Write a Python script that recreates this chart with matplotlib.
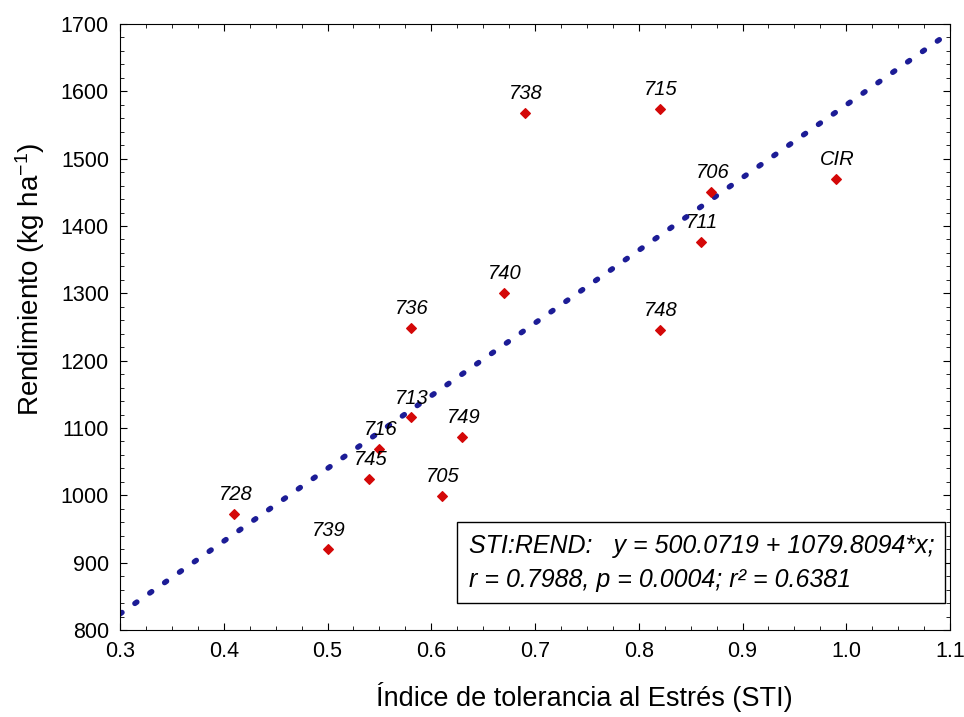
import numpy as np
import matplotlib.pyplot as plt
from matplotlib.ticker import MultipleLocator

plt.rcParams['font.family'] = ['Liberation Sans', 'DejaVu Sans']
plt.rcParams['mathtext.fontset'] = 'custom'
plt.rcParams['mathtext.rm'] = 'Liberation Sans'
plt.rcParams['mathtext.it'] = 'Liberation Sans:italic'

# Données
genotipos = ["738", "715", "706", "CIR", "711", "740", "736", "748",
             "713", "749", "716", "745", "705", "728", "739"]
sti = [0.69, 0.82, 0.87, 0.99, 0.86, 0.67, 0.58, 0.82,
       0.58, 0.63, 0.55, 0.54, 0.61, 0.41, 0.50]
rendimiento = [1568, 1574, 1451, 1470, 1376, 1301, 1249, 1246,
               1116, 1087, 1069, 1024, 999, 972, 920]

# Régression
a0 = 500.0719
a1 = 1079.8094
texte_reg = ["STI:REND:   y = 500.0719 + 1079.8094*x;",
             "r = 0.7988, p = 0.0004; r² = 0.6381"]

fig = plt.figure(figsize=(9.64, 7.17), dpi=100)
ax = fig.add_axes([0.1245, 0.1213, 0.861, 0.8452])

xr = np.linspace(0.3, 1.1, 100)
ax.plot(xr, a0 + a1 * xr, linestyle=(0, (0.45, 2.9)), color="#1c1c96",
        linewidth=3.9, dash_capstyle="round", zorder=1)

ax.scatter(sti, rendimiento, marker="D", s=24, color="#d40808", zorder=3)
for g, x, y in zip(genotipos, sti, rendimiento):
    ax.annotate(g, (x, y), xytext=(1, 7), textcoords="offset points",
                ha="center", va="bottom", fontsize=14.5, style="italic")

ax.set_xlim(0.3, 1.1)
ax.set_ylim(800, 1700)
ax.xaxis.set_minor_locator(MultipleLocator(0.025))
ax.yaxis.set_major_locator(MultipleLocator(100))
ax.yaxis.set_minor_locator(MultipleLocator(20))
ax.set_xticks(np.arange(0.3, 1.101, 0.1))
ax.set_xticklabels(["0.3", "0.4", "0.5", "0.6", "0.7", "0.8", "0.9", "1.0", "1.1"])
ax.tick_params(which="both", direction="in", top=True, right=True, labelsize=15.5, pad=8)
ax.tick_params(which="major", length=5)
ax.tick_params(which="minor", length=3)

ax.set_xlabel("Índice de tolerancia al Estrés (STI)", fontsize=19.5, va="center")
ax.xaxis.set_label_coords(0.559, -0.11)
ax.set_ylabel("Rendimiento (kg ha$^{-1}$)", fontsize=20, va="center")
ax.yaxis.set_label_coords(-0.108, 0.578)

ax.text(0.42, 0.111, "\n".join(texte_reg), transform=ax.transAxes,
        fontsize=18, style="italic", va="center", ha="left", linespacing=1.55,
        bbox=dict(boxstyle="square,pad=0.45", facecolor="white", edgecolor="black", linewidth=1))

fig.savefig("out.png", dpi=100)
